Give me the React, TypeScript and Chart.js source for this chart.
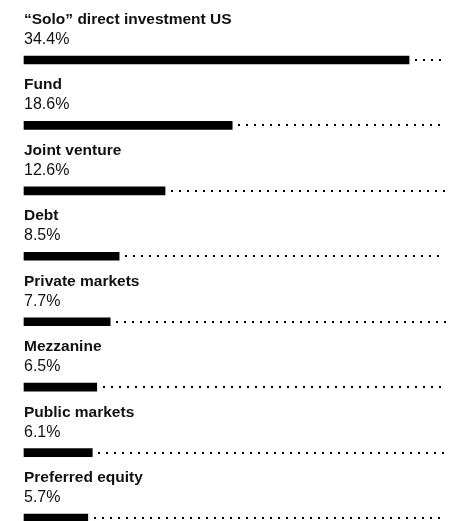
import React, { useEffect, useRef } from "react";
import { Chart, registerables } from "chart.js";

Chart.register(...registerables);

const categories = [
  "“Solo” direct investment US",
  "Fund",
  "Joint venture",
  "Debt",
  "Private markets",
  "Mezzanine",
  "Public markets",
  "Preferred equity",
];
const shares = [34.4, 18.6, 12.6, 8.5, 7.7, 6.5, 6.1, 5.7];
const valueLabels = ["34.4%", "18.6%", "12.6%", "8.5%", "7.7%", "6.5%", "6.1%", "5.7%"];
const axisMax = 37.7;

const labelPlugin = {
  id: "rowLabels",
  afterDatasetsDraw(chart: any) {
    const ctx = chart.ctx;
    const meta = chart.getDatasetMeta(0);
    const area = chart.chartArea;
    ctx.save();
    meta.data.forEach((bar: any, i: number) => {
      const y = bar.y;
      // dotted remainder line
      ctx.fillStyle = "#000";
      const end = bar.x;
      for (let x = end + 7; x <= area.right; x += 8) {
        ctx.fillRect(Math.round(x) - 1, Math.round(y) - 1, 2, 2);
      }
      // labels
      ctx.fillStyle = "#111";
      ctx.textAlign = "left";
      ctx.textBaseline = "alphabetic";
      ctx.font = "bold 15.5px 'Liberation Sans', Arial, sans-serif";
      ctx.fillText(categories[i], area.left, y - 36);
      ctx.font = "16px 'Liberation Sans', Arial, sans-serif";
      ctx.fillText(valueLabels[i], area.left, y - 16);
    });
    ctx.restore();
  },
};

export default function App() {
  const ref = useRef<HTMLCanvasElement | null>(null);
  useEffect(() => {
    document.body.style.margin = "0";
    const canvas = ref.current!;
    const chart = new Chart(canvas, {
      type: "bar",
      data: {
        labels: categories,
        datasets: [
          {
            data: shares,
            backgroundColor: "#000",
            borderWidth: 0,
            barThickness: 8,
            clip: false,
          } as any,
        ],
      },
      options: {
        indexAxis: "y",
        animation: false,
        responsive: false,
        maintainAspectRatio: false,
        events: [],
        layout: { padding: { left: 24, right: 4, top: 60, bottom: 3 } },
        plugins: { legend: { display: false }, tooltip: { enabled: false } },
        scales: {
          x: { display: false, min: 0, max: axisMax, grid: { display: false } },
          y: { display: false, offset: false, grid: { display: false } },
        },
      },
      plugins: [labelPlugin],
    });
    return () => chart.destroy();
  }, []);
  return (
    <div style={{ width: 450, height: 521, background: "#fff" }}>
      <canvas ref={ref} width={450} height={521} style={{ display: "block" }} />
    </div>
  );
}
